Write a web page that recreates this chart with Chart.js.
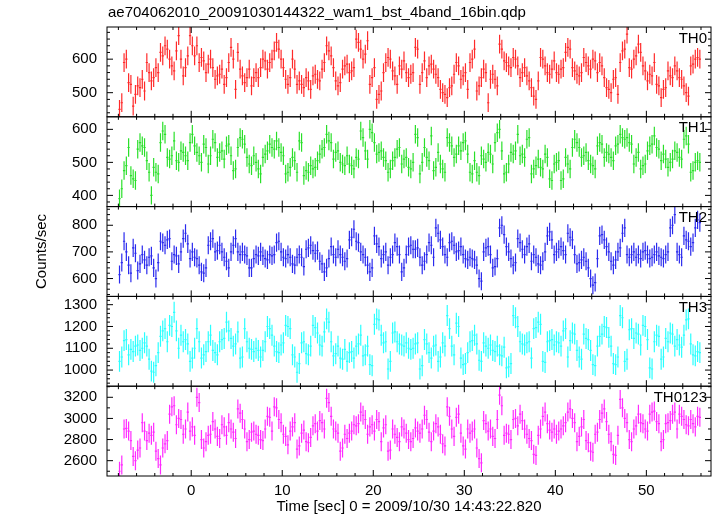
<!DOCTYPE html>
<html>
<head>
<meta charset="utf-8">
<script src="https://cdn.jsdelivr.net/npm/chart.js"></script>
<style>
  html, body { margin: 0; padding: 0; background: #fff; }
</style>
</head>
<body>
<canvas id="lc" width="717" height="516"></canvas>
<script>
// light curve: 0.25 s bins starting at -8 s
var binStart = -8.0;
var binWidth = 0.25;
var fileName = 'ae704062010_20091030144322_wam1_bst_4band_16bin.qdp';
var panelNames = ['TH0', 'TH1', 'TH2', 'TH3', 'TH0123'];
var panelColors = ['#ff2a2a', '#2ae02a', '#2a2aee', '#2affff', '#ff2aff'];
var yMin = [428, 366, 533, 926, 2455];
var yMax = [696, 638, 870, 1338, 3305];
var yMajor = [100, 100, 100, 100, 200];
var yMinor = [20, 20, 20, 20, 100];
var errHalf = [28, 28, 34, 48, 90];
var xMin = -9.25, xMax = 57.1;

var th0 = [450,470,590,600,530,525,460,495,520,515,540,505,590,560,535,545,575,560,620,610,640,630,600,580,565,625,670,600,550,575,610,670,640,610,640,590,605,595,560,585,600,575,540,550,555,570,525,545,590,635,600,510,620,570,550,530,545,570,520,545,560,545,
  575,600,595,570,590,600,625,650,630,600,575,540,525,545,600,570,525,535,525,515,545,535,510,550,555,540,535,570,590,640,625,610,575,535,520,530,570,580,585,560,565,575,660,650,630,600,615,655,525,545,575,480,495,505,560,590,605,600,565,550,525,580,570,595,560,545,555,560,
  635,630,525,560,595,545,580,585,570,555,545,510,500,495,485,515,520,555,590,580,540,550,560,510,590,600,630,505,520,545,570,560,470,540,555,540,520,645,630,595,590,580,575,605,600,580,545,560,575,550,535,515,490,480,535,605,600,580,560,555,570,595,560,555,
  570,575,620,635,630,575,565,555,550,560,605,590,580,570,600,595,560,590,580,545,515,510,500,540,545,495,590,625,630,675,575,570,600,610,645,620,580,565,535,555,550,590,525,520,485,510,515,565,550,545,580,565,545,540,520,500,490,580,585,600,605,600];

var th1 = [390,420,475,490,545,460,450,445,540,560,550,545,505,470,400,485,470,465,560,595,585,515,510,520,565,505,500,535,530,520,505,560,585,550,530,520,500,555,545,495,520,570,560,515,530,535,510,550,555,520,475,480,545,575,570,555,515,495,490,520,500,480,
  465,515,525,535,555,545,540,565,545,530,520,465,470,485,515,505,470,565,560,460,475,470,490,480,485,505,525,540,545,585,565,560,510,530,535,500,495,490,520,495,490,480,515,510,595,575,535,510,600,590,560,525,530,535,515,505,470,480,505,515,540,545,495,510,515,485,480,500,
  585,575,465,500,545,515,505,580,475,485,530,495,480,470,575,560,550,515,525,550,535,560,565,525,470,465,505,470,460,520,510,500,530,525,495,560,590,600,535,465,470,495,530,525,535,585,520,525,515,570,575,465,480,490,510,485,480,525,515,450,445,495,500,505,
  445,450,515,495,480,545,570,560,545,515,520,530,505,495,490,480,550,560,555,515,530,525,515,505,550,555,585,575,570,575,560,555,495,515,530,480,490,495,535,550,555,580,545,540,505,525,510,485,500,510,535,530,515,510,570,580,555,470,475,500,505,500];

var th2 = [615,660,740,700,650,620,715,695,630,655,690,670,650,680,685,640,600,660,740,735,725,745,750,665,690,685,655,700,750,770,730,675,700,680,675,650,625,620,640,725,740,750,700,705,725,700,680,665,640,700,725,750,700,690,700,690,685,640,640,675,690,685,
  700,685,675,670,690,685,690,735,740,700,680,675,690,680,655,650,680,690,680,645,710,715,725,705,695,705,665,655,625,640,675,720,690,680,710,690,680,665,675,745,755,785,740,735,700,690,680,650,625,640,760,730,720,675,690,700,650,680,690,735,720,690,625,640,690,720,725,710,
  710,715,680,650,665,690,735,725,680,790,770,745,720,690,680,735,740,725,700,705,720,690,675,670,680,675,670,650,600,590,700,715,720,690,640,645,675,790,800,765,720,700,675,650,660,750,735,710,690,720,730,665,690,680,655,650,665,700,760,775,745,690,700,710,
  720,705,690,770,755,745,690,655,660,670,680,665,640,600,575,585,675,760,765,745,720,700,665,650,670,700,715,770,790,690,680,690,700,680,690,675,700,705,690,675,680,690,700,685,680,675,690,700,790,800,840,700,690,680,760,745,740,720,735,790,820,810];

var th3 = [1040,1060,1135,1140,1070,1095,1085,1110,1115,1090,1100,1125,1110,1050,995,990,1020,1080,1155,1180,1190,1130,1205,1200,1265,1180,1100,1160,1130,1140,1120,1040,1055,1100,1190,1130,1055,1070,1085,1130,1160,1090,1080,1070,1130,1140,1145,1220,1180,1145,1110,1120,1175,1055,1060,1190,1130,1100,1095,1085,1100,1090,
  1060,1090,1130,1200,1190,1160,1110,1085,1080,1115,1125,1205,1200,1190,1070,1060,990,1030,1125,1130,1075,1070,1110,1205,1195,1170,1115,1110,1175,1235,1220,1130,1065,1075,1110,1055,1050,1095,1040,1080,1085,1055,1110,1120,1160,1065,1070,1110,1025,1020,1210,1235,1230,1160,1125,1130,1005,1040,1170,1175,1130,1120,1115,1110,1125,1100,1095,1100,
  1120,1125,1005,1020,1140,1120,1080,1055,1110,1115,1040,1060,1125,1110,1250,1190,1110,1070,1215,1200,1055,1025,1030,1080,1130,1135,1160,1120,1045,1040,1125,1110,1100,1115,1090,1085,1110,1070,1065,1105,1010,1015,1030,1250,1240,1200,1130,1120,1115,1125,1130,1055,1190,1195,1220,1210,1040,1035,1130,1135,1140,1115,1130,1125,
  1110,1180,1190,1060,1135,1170,1165,1090,1060,1050,1165,1145,1140,1090,1025,1020,1110,1155,1165,1200,1195,1150,1110,1030,1025,1060,1250,1240,1040,1050,1185,1190,1145,1170,1165,1115,1205,1200,1140,1010,1005,1130,1160,1155,1050,1060,1145,1130,1170,1165,1110,1140,1115,1105,1160,1230,1235,1120,1070,1065,1085,1080];

var th0123 = [2500,2560,2900,2905,2880,2790,2640,2600,2700,2720,2960,2880,2790,2860,2840,2870,2690,2620,2560,2720,2760,2790,3040,3110,3120,2940,3000,2990,2850,2900,3060,2880,2920,2840,3200,3150,2800,2720,2780,2840,2850,2970,2900,2830,2810,2940,2920,2840,2960,2900,2870,2810,3090,3050,2990,2900,2780,2800,2870,2880,2850,2840,
  2800,2790,2900,3020,3010,2880,3110,3100,2990,2960,2850,2830,2750,2880,2920,2960,2710,2740,2860,2890,2780,2770,2820,2930,2950,2880,2980,2960,2900,3190,3150,3020,2900,2880,2860,2690,2720,2850,2810,2860,2880,2940,2930,2950,3060,3030,2990,2850,2920,2940,2880,2990,2970,2780,2910,2940,2690,2700,2900,2850,2820,2780,2920,2900,2860,2800,2780,2810,
  2910,2880,2860,2900,3030,2990,2870,2780,2880,2950,2920,2850,2760,2740,3110,3020,2900,2830,3010,3040,2860,2740,2710,2900,2860,2880,2900,2720,2620,2580,2980,2950,2880,2900,2830,2810,2990,3220,3120,2840,2860,2850,2800,2990,3000,2930,3040,2980,2900,2850,2810,2790,2660,2650,2840,2900,3020,3060,2950,2890,2870,2900,2850,2880,
  2900,2930,2960,3060,3090,3000,2960,2780,2830,2920,2990,2790,2770,2690,2680,2850,2870,2990,3050,3090,2970,2850,2780,2660,2650,2840,3180,3100,3000,2960,2800,2780,2900,2930,3040,2960,2950,2900,2880,3040,3060,3070,2970,2950,2780,2800,2950,2960,2980,3040,3060,2900,3040,3020,2990,2940,2930,2990,2950,2920,3020,3010];

var series = [th0, th1, th2, th3, th0123];
var fontFam = '"Liberation Sans", Arial, sans-serif';

function toPoints(vals) {
  return vals.map(function (v, i) {
    return { x: binStart + binWidth * (i + 0.5), y: v };
  });
}

var datasets = series.map(function (vals, p) {
  return {
    label: panelNames[p],
    data: toPoints(vals),
    yAxisID: 'y' + p,
    borderColor: panelColors[p],
    showLine: false,
    pointRadius: 0
  };
});

function fixWidth(scale) { scale.width = 78; }
function plainLabel(v) { return String(v); }

var scales = {
  x: {
    type: 'linear', position: 'bottom', min: xMin, max: xMax,
    grid: { display: false, drawTicks: false }, border: { display: false },
    ticks: { stepSize: 10, includeBounds: false, autoSkip: false, maxRotation: 0,
             padding: 6, color: '#000', font: { family: fontFam, size: 15 }, callback: plainLabel },
    title: { display: true, text: 'Time [sec] 0 = 2009/10/30 14:43:22.820',
             color: '#000', font: { family: fontFam, size: 15 }, padding: { top: 0, bottom: 0 } },
    afterFit: function (s) { s.height = 40; }
  }
};
// last key is placed on top of the stack, so add the bottom panel first
for (var p = series.length - 1; p >= 0; p--) {
  scales['y' + p] = {
    type: 'linear', position: 'left', stack: 'panels', stackWeight: 1,
    min: yMin[p], max: yMax[p],
    grid: { display: false, drawTicks: false }, border: { display: false },
    ticks: { stepSize: yMajor[p], includeBounds: false, autoSkip: false, maxTicksLimit: 50,
             padding: 10, color: '#000', font: { family: fontFam, size: 15 }, callback: plainLabel },
    title: { display: p === 2, text: 'Counts/sec', color: '#000',
             font: { family: fontFam, size: 15 }, padding: { top: 4, bottom: 4 } },
    afterFit: fixWidth
  };
}

var qdpPlugin = {
  id: 'qdpDraw',
  afterDatasetsDraw: function (chart) {
    var ctx = chart.ctx, area = chart.chartArea, xs = chart.scales.x;
    chart.data.datasets.forEach(function (ds, di) {
      var ys = chart.scales['y' + di];
      var meta = chart.getDatasetMeta(di);
      ctx.save();
      ctx.beginPath();
      ctx.rect(area.left, ys.top, area.right - area.left, ys.bottom - ys.top);
      ctx.clip();
      ctx.strokeStyle = ds.borderColor;
      ctx.lineWidth = 1.2;
      ctx.beginPath();
      meta.data.forEach(function (pt, i) {
        var d = ds.data[i];
        var xl = xs.getPixelForValue(d.x - binWidth / 2);
        var xr = xs.getPixelForValue(d.x + binWidth / 2);
        ctx.moveTo(xl, pt.y); ctx.lineTo(xr, pt.y);
        ctx.moveTo(pt.x, ys.getPixelForValue(d.y - errHalf[di]));
        ctx.lineTo(pt.x, ys.getPixelForValue(d.y + errHalf[di]));
      });
      ctx.stroke();
      ctx.restore();
    });
  },
  afterDraw: function (chart) {
    var ctx = chart.ctx, area = chart.chartArea, xs = chart.scales.x;
    ctx.save();
    ctx.strokeStyle = '#000';
    ctx.lineWidth = 1;
    for (var p = 0; p < panelNames.length; p++) {
      var ys = chart.scales['y' + p];
      ctx.strokeRect(area.left, ys.top, area.right - area.left, ys.bottom - ys.top);
      ctx.beginPath();
      var v0 = Math.ceil(yMin[p] / yMinor[p]) * yMinor[p];
      for (var v = v0; v <= yMax[p]; v += yMinor[p]) {
        var py = ys.getPixelForValue(v);
        var len = (v % yMajor[p] === 0) ? 6 : 3;
        ctx.moveTo(area.left, py); ctx.lineTo(area.left + len, py);
        ctx.moveTo(area.right, py); ctx.lineTo(area.right - len, py);
      }
      for (var t = Math.ceil(xMin / 2) * 2; t <= xMax; t += 2) {
        var px = xs.getPixelForValue(t);
        var tl = (t % 10 === 0) ? 6 : 3;
        ctx.moveTo(px, ys.top); ctx.lineTo(px, ys.top + tl);
        ctx.moveTo(px, ys.bottom); ctx.lineTo(px, ys.bottom - tl);
      }
      ctx.stroke();
      ctx.fillStyle = '#000';
      ctx.font = '15px ' + fontFam;
      ctx.textAlign = 'right';
      ctx.textBaseline = 'top';
      ctx.fillText(panelNames[p], area.right - 4, ys.top + 4);
    }
    ctx.font = '15px ' + fontFam;
    ctx.textAlign = 'left';
    ctx.textBaseline = 'middle';
    ctx.fillText(fileName, area.left + 1, 13);
    ctx.restore();
  }
};

new Chart(document.getElementById('lc'), {
  type: 'line',
  data: { datasets: datasets },
  options: {
    responsive: false,
    devicePixelRatio: 1,
    animation: false,
    layout: { padding: { left: 29, right: 6, top: 27, bottom: 0 } },
    plugins: { legend: { display: false }, tooltip: { enabled: false } },
    scales: scales
  },
  plugins: [qdpPlugin]
});
</script>
</body>
</html>
